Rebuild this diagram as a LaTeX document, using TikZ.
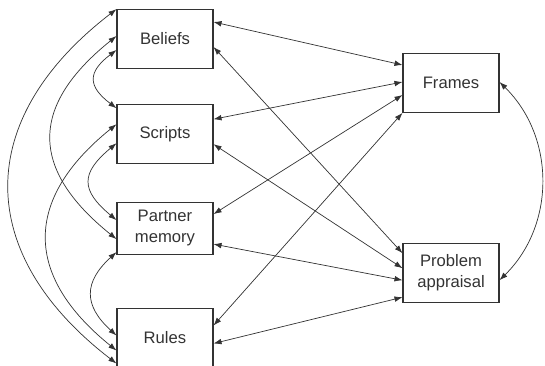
\documentclass[tikz,border=0pt]{standalone}
\usepackage{fontspec}
\setmainfont{Liberation Sans}
\usetikzlibrary{arrows.meta,positioning}

\begin{document}
\begin{tikzpicture}[>={Latex[length=2.4mm,width=1.7mm]},black!80]
  \tikzstyle{box}=[draw,line width=0.9pt,minimum width=2.88cm,minimum height=1.76cm,align=center,font=\fontsize{14.2}{18}\selectfont]
  \tikzstyle{link}=[line width=0.6pt,<->]
  \useasboundingbox (0,0) rectangle (16.35,-10.98);
  % left column
  \node[box] (bel) at (4.95,-1.17) {Beliefs};
  \node[box,below=1.05cm of bel] (scr) {Scripts};
  \node[box,minimum height=1.56cm,below=1.14cm of scr] (mem) {Partner\\memory};
  \node[box,below=1.59cm of mem] (rul) {Rules};
  % right column
  \node[box] (fra) at (13.53,-2.49) {Frames};
  \node[box,below=3.9cm of fra] (pro) {Problem\\appraisal};
  % straight links
  \draw[link] ([yshift=0.51cm]bel.east) -- ([yshift=0.54cm]fra.west);
  \draw[link] ([yshift=-0.24cm]bel.east) -- ([yshift=0.585cm]pro.west);
  \draw[link] ([yshift=0.435cm]scr.east) -- ([yshift=0.03cm]fra.west);
  \draw[link] ([yshift=-0.315cm]scr.east) -- ([yshift=0.135cm]pro.west);
  \draw[link] ([yshift=0.42cm]mem.east) -- ([yshift=-0.36cm]fra.west);
  \draw[link] ([yshift=-0.48cm]mem.east) -- ([yshift=-0.225cm]pro.west);
  \draw[link] ([yshift=0.36cm]rul.east) -- (fra.south west);
  \draw[link] ([yshift=-0.18cm]rul.east) -- ([yshift=-0.735cm]pro.west);
  % curved links
  \draw[link] ([yshift=-0.33cm]bel.west) .. controls +(-0.87,-0.66) and +(-0.87,0.66) .. ([yshift=0.765cm]scr.west);
  \draw[link] ([yshift=-0.285cm]scr.west) .. controls +(-1.08,-0.9) and +(-1.08,0.9) .. ([yshift=0.24cm]mem.west);
  \draw[link] ([yshift=-0.72cm]mem.west) .. controls +(-0.99,-0.9) and +(-0.99,0.9) .. ([yshift=0.06cm]rul.west);
  \draw[link] ([yshift=0.09cm]bel.west) .. controls +(-2.61,-2.1) and +(-2.61,2.1) .. ([yshift=-0.33cm]mem.west);
  \draw[link] ([yshift=0.285cm]scr.west) .. controls +(-2.79,-2.25) and +(-2.79,2.25) .. ([yshift=-0.39cm]rul.west);
  \draw[link] (bel.north west) .. controls +(-4.29,-3.3) and +(-4.29,3.3) .. ([yshift=-0.78cm]rul.west);
  \draw[link] ([yshift=0.03cm]fra.east) .. controls +(1.68,-1.65) and +(1.68,1.65) .. ([yshift=-0.225cm]pro.east);
\end{tikzpicture}
\end{document}
